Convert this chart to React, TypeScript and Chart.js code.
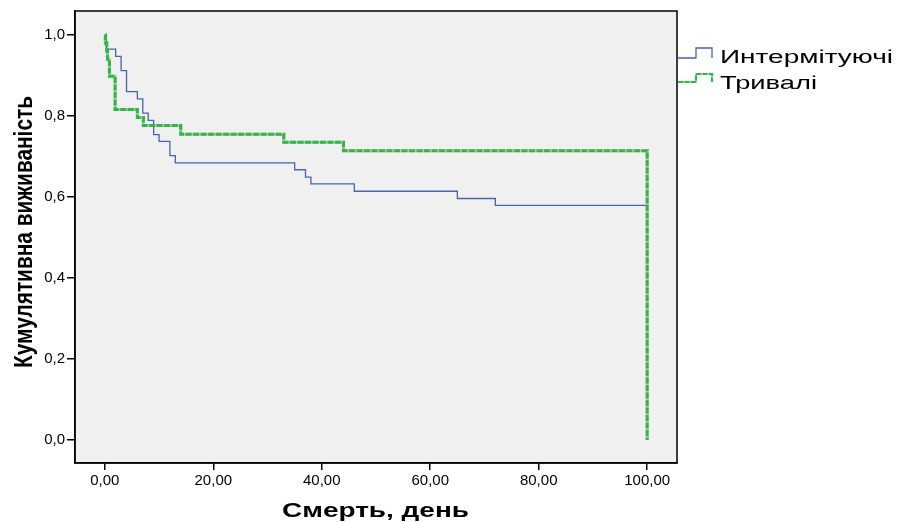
import React, { useEffect, useRef } from "react";
import { Chart, registerables } from "chart.js";

Chart.register(...registerables);

// Intermittent (blue) Kaplan–Meier curve
const blueTimes = [0, 0.3, 2.0, 3.0, 4.0, 6.0, 7.0, 8.0, 9.0, 10.0, 12.0, 13.0, 35.0, 37.0, 38.0, 46.0, 65.0, 72.0, 100.0];
const blueSurv = [1.0, 0.965, 0.947, 0.912, 0.86, 0.842, 0.807, 0.789, 0.754, 0.737, 0.702, 0.684, 0.667, 0.649, 0.632, 0.614, 0.596, 0.579, 0.579];

// Prolonged (green) Kaplan–Meier curve
const greenTimes = [0, 0.1, 0.35, 0.5, 0.85, 1.9, 6.0, 7.1, 14.0, 33.0, 44.0, 100.0, 100.0];
const greenSurv = [1.0, 0.98, 0.96, 0.94, 0.898, 0.816, 0.796, 0.776, 0.755, 0.735, 0.714, 0.714, 0.0];

const xTicks = [0, 20, 40, 60, 80, 100];
const yTicks = [0, 0.2, 0.4, 0.6, 0.8, 1.0];

const seriesLabels = ["Интермітуючі", "Тривалі"];
const xTitle = "Смерть, день";
const yTitle = "Кумулятивна виживаність";

const BLUE = "#4862b4";
const GREEN = "#37b449";
const GREEN_LIGHT = "rgba(55,180,73,0.45)";
const FONT = '"Liberation Sans", Arial, sans-serif';

function stretchText(ctx: CanvasRenderingContext2D, text: string, font: string, width: number) {
  ctx.font = font;
  const w = ctx.measureText(text).width;
  ctx.scale(width / w, 1);
  ctx.textAlign = "left";
  ctx.textBaseline = "alphabetic";
  ctx.fillText(text, 0, 0);
}

const decorPlugin = {
  id: "decor",
  beforeDraw(chart: any) {
    const { ctx, chartArea: a } = chart;
    ctx.save();
    ctx.fillStyle = "#ffffff";
    ctx.fillRect(0, 0, chart.width, chart.height);
    ctx.fillStyle = "#f0f0f0";
    ctx.fillRect(a.left, a.top, a.right - a.left, a.bottom - a.top);
    ctx.restore();
  },
  afterDraw(chart: any) {
    const { ctx, chartArea: a } = chart;
    ctx.save();
    ctx.strokeStyle = "#000";
    ctx.lineWidth = 1.5;
    ctx.strokeRect(a.left, a.top, a.right - a.left, a.bottom - a.top);

    ctx.fillStyle = "#000";
    // x title
    ctx.save();
    ctx.translate(282, 517);
    stretchText(ctx, xTitle, `bold 21px ${FONT}`, 187);
    ctx.restore();
    // y title
    ctx.save();
    ctx.translate(32, 368);
    ctx.rotate(-Math.PI / 2);
    stretchText(ctx, yTitle, `bold 26px ${FONT}`, 272);
    ctx.restore();

    // legend
    const rows = [
      { color: BLUE, low: 58, high: 48, base: 62.5, width: 173, dash: false },
      { color: GREEN, low: 82, high: 74, base: 88.5, width: 97, dash: true },
    ];
    rows.forEach((r, i) => {
      ctx.save();
      ctx.beginPath();
      ctx.moveTo(678, r.low);
      ctx.lineTo(696, r.low);
      ctx.lineTo(696, r.high);
      ctx.lineTo(712, r.high);
      ctx.lineTo(712, r.low);
      if (r.dash) {
        ctx.strokeStyle = GREEN_LIGHT;
        ctx.lineWidth = 2.2;
        ctx.stroke();
        ctx.setLineDash([5, 1.5]);
        ctx.strokeStyle = r.color;
        ctx.stroke();
      } else {
        ctx.strokeStyle = r.color;
        ctx.lineWidth = 1.3;
        ctx.stroke();
      }
      ctx.restore();
      ctx.save();
      ctx.fillStyle = "#000";
      ctx.translate(720, r.base);
      stretchText(ctx, seriesLabels[i], `19px ${FONT}`, r.width);
      ctx.restore();
    });
    ctx.restore();
  },
};

export default function App() {
  const ref = useRef<HTMLCanvasElement>(null);
  useEffect(() => {
    if (!ref.current) return;
    const toPts = (xs: number[], ys: number[]) => xs.map((x, i) => ({ x, y: ys[i] }));
    const chart = new Chart(ref.current, {
      type: "line",
      data: {
        datasets: [
          {
            label: seriesLabels[0],
            data: toPts(blueTimes, blueSurv),
            borderColor: BLUE,
            borderWidth: 1.3,
            stepped: "before",
            pointRadius: 0,
            fill: false,
            order: 3,
          },
          {
            label: seriesLabels[1] + " bg",
            data: toPts(greenTimes, greenSurv),
            borderColor: GREEN_LIGHT,
            borderWidth: 3,
            stepped: "before",
            pointRadius: 0,
            fill: false,
            order: 2,
          },
          {
            label: seriesLabels[1],
            data: toPts(greenTimes, greenSurv),
            borderColor: GREEN,
            borderWidth: 3,
            borderDash: [6, 1.5],
            stepped: "before",
            pointRadius: 0,
            fill: false,
            order: 1,
          },
        ],
      },
      options: {
        animation: false,
        responsive: false,
        devicePixelRatio: 1,
        layout: { padding: { left: 0, top: 10, right: 221, bottom: 0 } },
        plugins: { legend: { display: false }, tooltip: { enabled: false } },
        scales: {
          x: {
            type: "linear",
            min: -5.5,
            max: 105.5,
            afterBuildTicks: (s: any) => {
              s.ticks = xTicks.map((v) => ({ value: v }));
            },
            afterFit: (s: any) => {
              s.height = 59;
            },
            grid: { drawOnChartArea: false, drawTicks: true, tickLength: 7, color: "#000", lineWidth: 1.5 },
            border: { display: true, color: "#000", width: 1.5 },
            ticks: {
              color: "#000",
              font: { family: FONT, size: 15 },
              padding: 2,
              maxRotation: 0,
              autoSkip: false,
              callback: (v: any) => Number(v).toFixed(2).replace(".", ","),
            },
          },
          y: {
            type: "linear",
            min: -0.057,
            max: 1.059,
            afterBuildTicks: (s: any) => {
              s.ticks = yTicks.map((v) => ({ value: v }));
            },
            afterFit: (s: any) => {
              s.width = 75;
            },
            grid: { drawOnChartArea: false, drawTicks: true, tickLength: 8, color: "#000", lineWidth: 1.5 },
            border: { display: true, color: "#000", width: 1.5 },
            ticks: {
              color: "#000",
              font: { family: FONT, size: 15 },
              padding: 2,
              autoSkip: false,
              callback: (v: any) => Number(v).toFixed(1).replace(".", ","),
            },
          },
        },
      },
      plugins: [decorPlugin],
    } as any);
    return () => chart.destroy();
  }, []);
  return (
    <div style={{ position: "absolute", left: 0, top: 0, width: 898, height: 522 }}>
      <canvas ref={ref} width={898} height={522} style={{ width: 898, height: 522 }} />
    </div>
  );
}
